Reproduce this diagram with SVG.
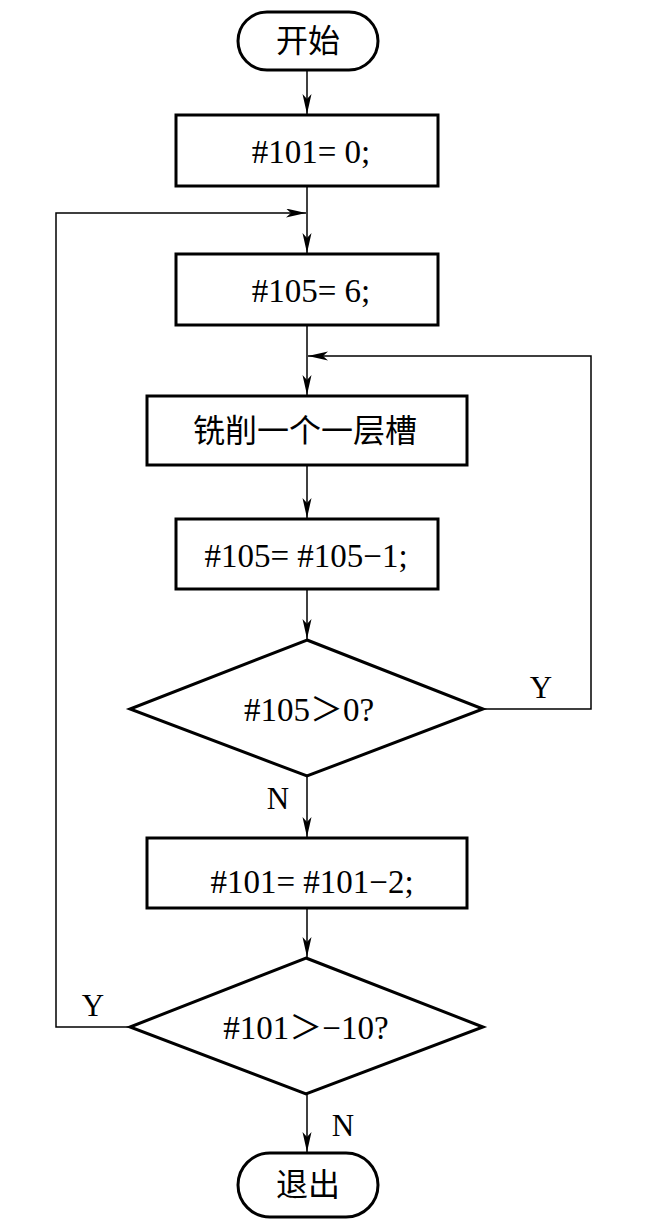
<svg xmlns="http://www.w3.org/2000/svg" width="651" height="1232" viewBox="0 0 651 1232">
<style>
.n{fill:#fff;stroke:#000;stroke-width:3}
.c{fill:none;stroke:#000;stroke-width:1.5}
.t{font-family:"Liberation Serif","Noto Sans CJK SC",serif;font-size:33px;fill:#000;text-anchor:middle}
.k{font-family:"Liberation Serif","Noto Sans CJK SC",serif;font-size:32px;fill:#000;text-anchor:middle}
.l{font-family:"Liberation Serif",serif;font-size:31px;fill:#000;text-anchor:middle}
</style>
<defs>
<marker id="a" markerWidth="22" markerHeight="10" refX="20" refY="4.5" orient="auto" markerUnits="userSpaceOnUse">
<path d="M0,0 L20,4.5 L0,9 L5,4.5 Z" fill="#000"/>
</marker>
</defs>
<rect width="651" height="1232" fill="#fff"/>
<g id="connectors">
<line class="c" x1="307" y1="70" x2="307" y2="114" marker-end="url(#a)"/>
<line class="c" x1="307" y1="186" x2="307" y2="253" marker-end="url(#a)"/>
<polyline class="c" points="130,1027 56,1027 56,213 306,213" marker-end="url(#a)"/>
<line class="c" x1="307" y1="325" x2="307" y2="395" marker-end="url(#a)"/>
<polyline class="c" points="483,709 591,709 591,356 308,356" marker-end="url(#a)"/>
<line class="c" x1="307" y1="465" x2="307" y2="518" marker-end="url(#a)"/>
<line class="c" x1="307" y1="589" x2="307" y2="639" marker-end="url(#a)"/>
<line class="c" x1="307" y1="776" x2="307" y2="837" marker-end="url(#a)"/>
<line class="c" x1="307" y1="908" x2="307" y2="957" marker-end="url(#a)"/>
<line class="c" x1="307" y1="1094" x2="307" y2="1152" marker-end="url(#a)"/>
<text class="l" x="541" y="698">Y</text>
<text class="l" x="278" y="809">N</text>
<text class="l" x="93" y="1016">Y</text>
<text class="l" x="343" y="1136">N</text>
</g>
<g id="start">
<rect class="n" x="238" y="12" width="140" height="58" rx="29"/>
<text class="k" x="308" y="52">开始</text>
</g>
<g id="init101">
<rect class="n" x="176" y="115" width="262" height="71"/>
<text class="t" x="311" y="163">#101= 0;</text>
</g>
<g id="init105">
<rect class="n" x="176" y="254" width="262" height="71"/>
<text class="t" x="311" y="302">#105= 6;</text>
</g>
<g id="mill">
<rect class="n" x="147" y="396" width="320" height="69"/>
<text class="k" x="305" y="442">铣削一个一层槽</text>
</g>
<g id="dec105">
<rect class="n" x="176" y="519" width="262" height="70"/>
<text class="t" x="306" y="567">#105= #105−1;</text>
</g>
<g id="cond105">
<polygon class="n" points="307,640 483,709 307,776 130,709"/>
<text class="t" x="309" y="721">#105＞0?</text>
</g>
<g id="dec101">
<rect class="n" x="147" y="838" width="320" height="70"/>
<text class="t" x="312" y="893">#101= #101−2;</text>
</g>
<g id="cond101">
<polygon class="n" points="306,958 483,1027 306,1094 130,1027"/>
<text class="t" x="306" y="1039">#101＞−10?</text>
</g>
<g id="exit">
<rect class="n" x="238" y="1153" width="140" height="64" rx="32"/>
<text class="k" x="308" y="1196">退出</text>
</g>
</svg>
